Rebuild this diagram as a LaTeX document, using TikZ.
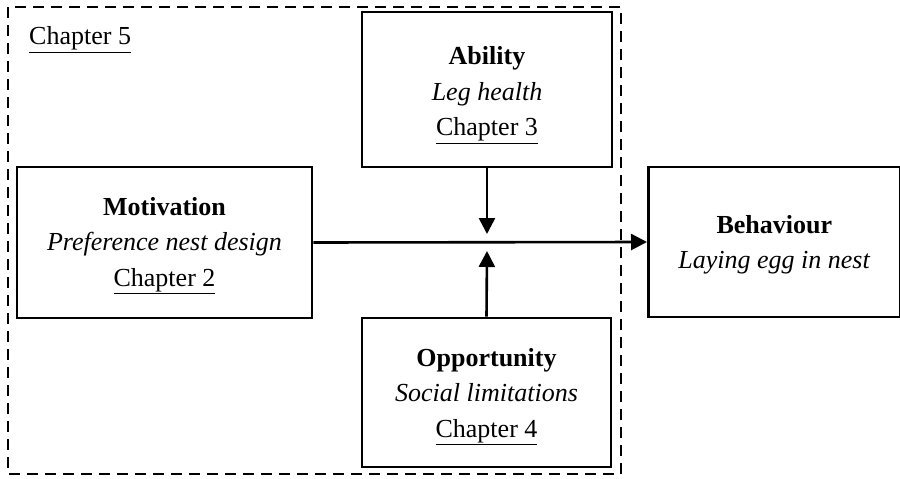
\documentclass[tikz,border=0pt]{standalone}
\usepackage{fontspec}
\setmainfont{Liberation Serif}
\usetikzlibrary{arrows.meta}
% invisible strut that sets the height of a box's first text line
\newcommand{\toplinestrut}[1]{\rule{0pt}{#1}}
\begin{document}
\begin{tikzpicture}[x=1pt,y=-1pt,
  font=\fontsize{26}{35.5}\selectfont,
  factor/.style={draw,line width=2.6pt,align=center,inner sep=0pt},
  link/.style={line width=2.6pt,-{Triangle[length=16pt,width=16pt]}},
  frame/.style={draw,line width=2.3pt,dash pattern=on 11pt off 7pt}]
\useasboundingbox (0,0) rectangle (900,479);
% dashed frame around the Chapter 5 factors
\draw[frame] (8,7) rectangle (621,474);
\node[anchor=base west,inner sep=0pt] (ch5) at (29,45) {\underline{Chapter 5}};
% factor boxes
\node[factor,minimum width=250pt,minimum height=155pt] (abil) at (487,89.5)
  {\toplinestrut{29.5pt}\textbf{Ability}\\ \textit{Leg health}\\ \underline{Chapter 3}};
\node[factor,minimum width=295pt,minimum height=151pt] (moti) at (164.5,242.5)
  {\toplinestrut{24pt}\textbf{Motivation}\\ \textit{Preference nest design}\\ \underline{Chapter 2}};
\node[factor,minimum width=249pt,minimum height=149pt] (oppo) at (486.5,392.5)
  {\toplinestrut{26pt}\textbf{Opportunity}\\ \textit{Social limitations}\\ \underline{Chapter 4}};
\node[factor,minimum width=252pt,minimum height=150pt,anchor=west] (beha) at (647,242)
  {\toplinestrut{24pt}\textbf{Behaviour}\\ \textit{Laying egg in nest}};
% connectors
\coordinate (jtop) at (487,234);
\coordinate (jbot) at (487,251);
\draw[link] (moti.east) -- (beha.west);
\draw[link] (abil.south) -- (jtop);
\draw[link] (oppo.north) -- (jbot);
\end{tikzpicture}
\end{document}
